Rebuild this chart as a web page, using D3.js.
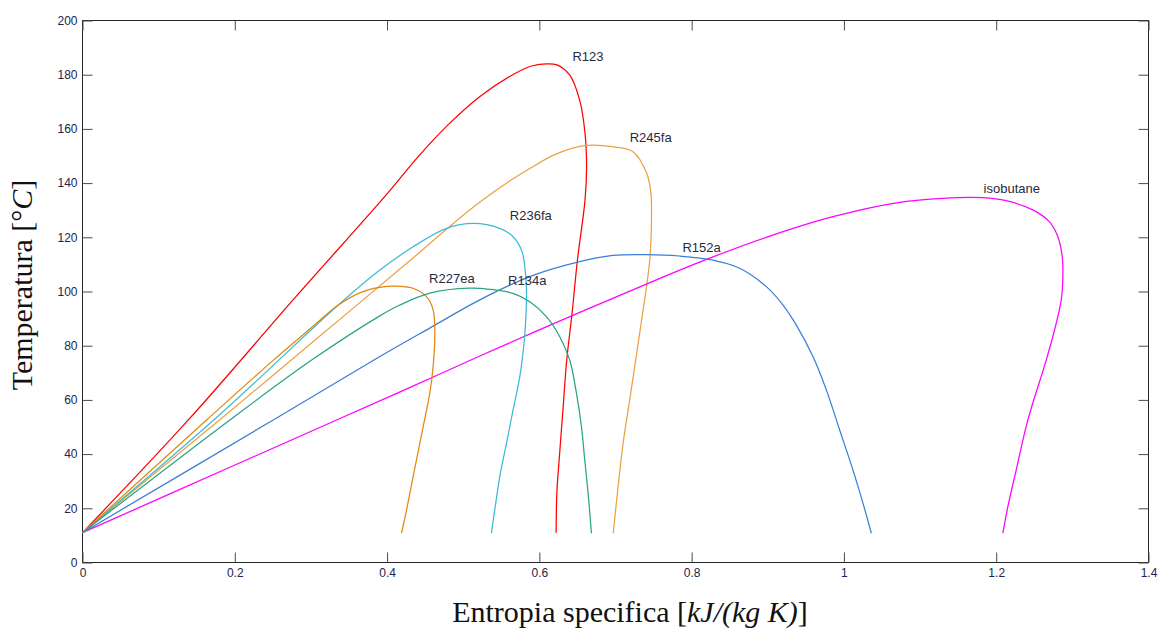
<!DOCTYPE html>
<html>
<head>
<meta charset="utf-8">
<script src="https://cdn.jsdelivr.net/npm/d3@7"></script>
<style>
  html, body { margin: 0; padding: 0; background: #ffffff; }
  svg { display: block; }
</style>
</head>
<body>
<svg id="chart" width="1162" height="628"></svg>
<script>
// Saturation domes in the T-s plane: each curve runs from the saturated-liquid
// branch (starting near 11 °C) over the critical point and down the vapour branch.
const fluids = ["R123", "R245fa", "isobutane", "R236fa", "R152a", "R227ea", "R134a"];

// entropy s [kJ/(kg K)] and temperature T [°C] along each dome
const r123S = [0, 0.139, 0.28, 0.40, 0.44, 0.48, 0.522, 0.565, 0.591, 0.61, 0.623, 0.640, 0.653, 0.660, 0.662, 0.660, 0.650, 0.643, 0.636, 0.631, 0.626, 0.623, 0.622];
const r123T = [11, 52.6, 98.0, 136.0, 149.5, 161.5, 172.0, 180.0, 183.3, 184.0, 183.6, 179.8, 170.5, 158.3, 145.9, 133.8, 111.6, 92.1, 74.8, 56.4, 37.9, 25.8, 11];

const r245faS = [0, 0.180, 0.30, 0.4325, 0.478, 0.522, 0.5655, 0.5874, 0.6225, 0.662, 0.697, 0.723, 0.741, 0.7465, 0.747, 0.745, 0.741, 0.733, 0.720, 0.710, 0.7025, 0.697];
const r245faT = [11, 52.6, 80.8, 112.0, 123.0, 133.0, 141.6, 145.4, 150.8, 153.9, 153.4, 151.6, 143.6, 136.2, 122.7, 111.6, 102.4, 87.0, 62.5, 44.0, 25.6, 10.8];

const isobutaneS = [0, 0.198, 0.3337, 0.4325, 0.5218, 0.653, 0.7537, 0.8237, 0.898, 0.9856, 1.073, 1.13, 1.1825, 1.213, 1.248, 1.27, 1.281, 1.2867, 1.2875, 1.2854, 1.2766, 1.2657, 1.2416, 1.2263, 1.2153, 1.2087];
const isobutaneT = [11, 35.7, 52.6, 64.9, 76.2, 92.3, 104.3, 112.3, 120.0, 127.6, 132.9, 134.4, 134.6, 133.5, 130.1, 125.7, 120.2, 112.8, 105.5, 96.9, 85.8, 74.7, 52.6, 34.2, 20.6, 10.8];

const r236faS = [0, 0.176, 0.336, 0.3905, 0.4342, 0.478, 0.513, 0.548, 0.5655, 0.5765, 0.5809, 0.5831, 0.5822, 0.5795, 0.5743, 0.5655, 0.5568, 0.548, 0.5414, 0.537];
const r236faT = [11, 53.5, 95.0, 107.9, 116.5, 123.3, 125.1, 123.3, 120.2, 115.3, 109.1, 100.0, 90.0, 80.0, 68.6, 56.3, 44.0, 31.7, 19.4, 10.8];

const r152aS = [0, 0.2505, 0.3905, 0.456, 0.5218, 0.5874, 0.653, 0.6968, 0.7406, 0.784, 0.828, 0.863, 0.8981, 0.92, 0.9375, 0.9593, 0.9769, 0.9944, 1.0118, 1.025, 1.036];
const r152aT = [11, 52.6, 76.0, 86.5, 96.9, 105.5, 111.0, 113.3, 113.6, 113.1, 111.6, 108.6, 101.8, 95.0, 87.6, 76.0, 63.7, 48.9, 34.2, 21.9, 10.8];

const r227eaS = [0, 0.163, 0.25, 0.30, 0.336, 0.365, 0.39, 0.41, 0.434, 0.4518, 0.4605, 0.4627, 0.4605, 0.4561, 0.4474, 0.4342, 0.4256, 0.419];
const r227eaT = [11, 52.6, 74.5, 86.5, 95.0, 99.6, 101.5, 102.0, 101.2, 98.1, 93.2, 84.6, 72.3, 62.5, 50.1, 31.7, 19.4, 10.8];

const r134aS = [0, 0.1936, 0.30, 0.3905, 0.4168, 0.4562, 0.5087, 0.5349, 0.5655, 0.5874, 0.6093, 0.6268, 0.6399, 0.6487, 0.6553, 0.6596, 0.664, 0.6684];
const r134aT = [11, 52.6, 74.5, 91.0, 95.0, 99.4, 101.2, 100.8, 99.3, 96.2, 90.7, 83.3, 74.7, 62.5, 50.1, 37.9, 25.6, 10.8];

const xTicks = [0, 0.2, 0.4, 0.6, 0.8, 1, 1.2, 1.4];
const xTickLabels = ["0", "0.2", "0.4", "0.6", "0.8", "1", "1.2", "1.4"];
const yTicks = [0, 20, 40, 60, 80, 100, 120, 140, 160, 180, 200];
const yTickLabels = ["0", "20", "40", "60", "80", "100", "120", "140", "160", "180", "200"];

const series = {
  "R123": [r123S, r123T],
  "R245fa": [r245faS, r245faT],
  "isobutane": [isobutaneS, isobutaneT],
  "R236fa": [r236faS, r236faT],
  "R152a": [r152aS, r152aT],
  "R227ea": [r227eaS, r227eaT],
  "R134a": [r134aS, r134aT]
};

const colors = {
  "R123": "#ff0000",
  "R245fa": "#eea043",
  "isobutane": "#ff00ff",
  "R236fa": "#3dbad6",
  "R152a": "#3a7fd6",
  "R227ea": "#e2870f",
  "R134a": "#2ba386"
};

// curve names are written next to each dome, placed in data units
const labelAt = {
  "R123": [0.6435, 185.2],
  "R245fa": [0.7187, 155.3],
  "isobutane": [1.1834, 136.3],
  "R236fa": [0.5612, 126.4],
  "R152a": [0.7879, 114.6],
  "R227ea": [0.4552, 103.0],
  "R134a": [0.5589, 102.4]
};

const svg = d3.select("#chart");
const plotLeft = 82.5, plotRight = 1148.5, plotTop = 20.5, plotBottom = 562.5;

const x = d3.scaleLinear().domain([0, 1.4]).range([plotLeft, plotRight]);
const y = d3.scaleLinear().domain([0, 200]).range([plotBottom, plotTop]);

const tickFont = "'Liberation Sans', Arial, sans-serif";
const tickColor = "#24244a";

// plot frame
svg.append("rect")
  .attr("x", plotLeft).attr("y", plotTop)
  .attr("width", plotRight - plotLeft).attr("height", plotBottom - plotTop)
  .attr("fill", "none").attr("stroke", "#262626").attr("stroke-width", 1);

function styleAxis(g) {
  g.select(".domain").remove();
  g.selectAll(".tick line").attr("stroke", "#4a4a4a").attr("stroke-width", 1);
  g.selectAll(".tick text")
    .attr("fill", tickColor)
    .style("font-family", tickFont)
    .style("font-size", "12px");
}

svg.append("g")
  .attr("transform", `translate(0,${plotBottom})`)
  .call(d3.axisBottom(x).tickValues(xTicks)
    .tickFormat((d, i) => xTickLabels[i])
    .tickSizeInner(-10).tickSizeOuter(0).tickPadding(6))
  .call(styleAxis);

svg.append("g")
  .attr("transform", `translate(0,${plotTop})`)
  .call(d3.axisTop(x).tickValues(xTicks).tickFormat("")
    .tickSizeInner(-10).tickSizeOuter(0))
  .call(styleAxis);

svg.append("g")
  .attr("transform", `translate(${plotLeft},0)`)
  .call(d3.axisLeft(y).tickValues(yTicks)
    .tickFormat((d, i) => yTickLabels[i])
    .tickSizeInner(-10).tickSizeOuter(0).tickPadding(5))
  .call(styleAxis);

svg.append("g")
  .attr("transform", `translate(${plotRight},0)`)
  .call(d3.axisRight(y).tickValues(yTicks).tickFormat("")
    .tickSizeInner(-10).tickSizeOuter(0))
  .call(styleAxis);

// saturation curves
const line = d3.line()
  .x(d => x(d[0]))
  .y(d => y(d[1]))
  .curve(d3.curveCatmullRom.alpha(0.5));

const plot = svg.append("g");
fluids.forEach(name => {
  const [s, T] = series[name];
  const pts = s.map((v, i) => [v, T[i]]);
  plot.append("path")
    .datum(pts)
    .attr("d", line)
    .attr("fill", "none")
    .attr("stroke", colors[name])
    .attr("stroke-width", 1.25)
    .attr("stroke-linejoin", "round");
});

// curve names
fluids.forEach(name => {
  const [s, T] = labelAt[name];
  svg.append("text")
    .attr("x", x(s)).attr("y", y(T))
    .attr("fill", "#2a2a3e")
    .style("font-family", tickFont)
    .style("font-size", "13px")
    .text(name);
});

// axis titles
const titleFont = "'Liberation Serif', 'Times New Roman', serif";

const xt = svg.append("text")
  .attr("x", 630).attr("y", 621.5)
  .attr("text-anchor", "middle")
  .attr("fill", "#111")
  .style("font-family", titleFont)
  .style("font-size", "30px");
xt.append("tspan").text("Entropia specifica [");
xt.append("tspan").style("font-style", "italic").text("kJ/(kg K)");
xt.append("tspan").text("]");

const yt = svg.append("text")
  .attr("transform", "translate(32,285) rotate(-90)")
  .attr("text-anchor", "middle")
  .attr("fill", "#111")
  .style("font-family", titleFont)
  .style("font-size", "30px");
yt.append("tspan").text("Temperatura [°");
yt.append("tspan").style("font-style", "italic").text("C");
yt.append("tspan").text("]");
</script>
</body>
</html>
